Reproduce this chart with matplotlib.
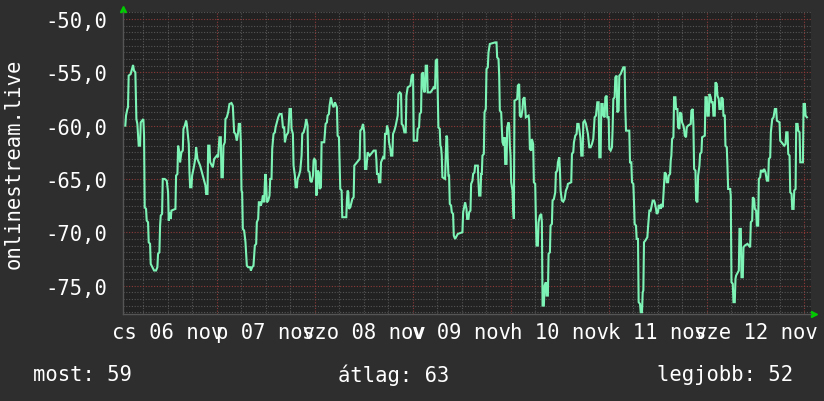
import matplotlib
matplotlib.use("Agg")
import matplotlib.pyplot as plt
from matplotlib.ticker import MultipleLocator
import matplotlib.transforms as mtransforms

# hours since 06 nov 00:00, signal level
d06_t = [1.55, 1.72, 2.05, 2.21, 2.37, 2.86, 3.19, 3.44, 3.68, 4.01, 4.26, 4.50, 4.83, 5.16, 5.32, 5.97,
         6.14, 6.30, 6.63, 6.79, 7.12, 7.28, 7.61, 7.77, 8.18, 8.59, 9.08, 9.41, 9.57, 9.90, 10.07, 10.23,
         10.56, 10.72, 11.21, 11.70, 12.03, 12.19, 12.36, 12.68, 12.85, 13.83, 13.99, 14.32, 14.48, 14.81,
         14.97, 15.30, 15.63, 15.79, 16.12, 16.45, 16.61, 16.78, 17.10, 17.27, 17.43, 17.76, 17.92, 18.41,
         18.74, 18.90, 19.23, 19.88, 20.54, 21.19, 21.36, 21.69, 21.85, 22.18, 22.34, 23.00, 23.32, 23.98]
d06_v = [-60.0, -59.06, -58.44, -58.28, -55.31, -55.16, -54.69, -54.31, -54.84, -55.0, -59.38, -59.84,
         -61.88, -61.88, -59.69, -59.38, -60.94, -67.66, -67.81, -68.91, -69.06, -70.94, -71.09, -72.97,
         -73.28, -73.59, -73.59, -73.28, -72.03, -71.88, -69.38, -68.44, -68.28, -65.0, -65.0, -65.16,
         -66.25, -68.91, -68.13, -68.75, -67.97, -67.81, -64.69, -64.53, -61.88, -62.5, -63.44, -62.5,
         -62.34, -60.31, -60.0, -59.53, -59.84, -60.47, -61.72, -64.38, -65.78, -65.78, -64.69, -63.75,
         -62.97, -62.03, -63.13, -63.75, -64.69, -65.63, -66.41, -66.41, -61.88, -61.88, -63.44, -63.91,
         -63.13, -62.81]

d07_t = [24.29, 24.62, 24.95, 25.11, 25.44, 25.60, 25.93, 26.09, 26.42, 26.75, 27.07, 27.56, 27.89, 28.22,
         28.55, 28.87, 29.20, 29.36, 29.69, 29.86, 30.02, 30.18, 30.35, 30.67, 31.00, 31.33, 31.66, 32.15,
         32.31, 32.64, 32.96, 33.29, 33.62, 33.78, 34.11, 34.27, 34.60, 34.77, 35.09, 35.26, 35.58, 35.75,
         35.91, 36.07, 36.24, 36.57, 36.89, 37.06, 37.38, 37.55, 37.87, 38.20, 38.37, 38.69, 39.02, 39.35,
         39.84, 40.00, 40.17, 40.49, 40.66, 40.98, 41.48, 41.80, 42.13, 42.29, 42.62, 42.78, 43.11, 43.28,
         43.60, 43.77, 44.09, 44.42, 44.75, 44.91, 45.24, 45.57, 45.89, 46.22, 46.39, 46.71, 46.88, 47.20,
         47.53, 47.69, 47.86]
d07_v = [-62.97, -61.09, -61.09, -64.84, -64.84, -61.88, -61.56, -59.38, -59.22, -58.75, -57.97, -57.88,
         -58.13, -60.63, -60.78, -61.41, -60.63, -59.84, -59.84, -61.56, -66.09, -66.25, -69.69, -69.84,
         -70.94, -73.13, -73.28, -73.28, -73.59, -73.28, -73.13, -71.25, -71.09, -69.06, -68.75, -67.19,
         -67.19, -67.5, -67.03, -66.56, -67.19, -65.31, -64.53, -65.31, -67.19, -67.03, -66.56, -65.0,
         -65.0, -62.19, -60.78, -60.63, -60.16, -59.69, -59.22, -58.91, -58.91, -59.38, -60.16, -60.16,
         -61.56, -60.94, -60.63, -58.44, -58.44, -60.31, -60.78, -63.75, -64.69, -65.78, -65.78, -65.0,
         -64.69, -64.22, -62.81, -60.78, -60.63, -60.16, -59.38, -60.0, -64.22, -64.38, -65.16, -65.31,
         -64.69, -63.28, -63.13]

d08_t = [48.18, 48.34, 48.50, 48.67, 48.98, 49.16, 49.49, 49.65, 50.30, 50.63, 50.96, 51.12, 51.45, 51.61,
         51.94, 52.27, 52.60, 52.92, 53.41, 53.58, 53.91, 54.23, 54.56, 54.72, 55.71, 55.87, 56.03, 56.20,
         56.36, 56.69, 57.18, 57.51, 57.67, 58.32, 58.98, 59.14, 59.47, 59.80, 60.12, 60.29, 60.62, 60.94,
         61.43, 61.76, 62.42, 62.91, 63.07, 63.23, 63.56, 63.73, 64.05, 64.22, 64.71, 65.03, 65.20, 65.53,
         65.69, 66.02, 66.18, 66.51, 66.67, 67.00, 67.16, 67.49, 67.82, 68.14, 68.31, 68.47, 68.80, 69.13,
         69.29, 69.62, 69.94, 70.27, 70.44, 70.76, 71.42, 71.74, 72.07]
d08_v = [-63.28, -66.56, -66.41, -64.22, -64.38, -65.94, -65.78, -61.56, -61.56, -59.84, -59.69, -59.06,
         -58.91, -58.13, -57.34, -57.97, -58.28, -57.81, -58.28, -60.94, -61.09, -65.94, -66.09, -68.59,
         -68.59, -66.88, -66.09, -66.25, -67.81, -67.66, -66.88, -66.72, -63.75, -63.44, -63.13, -60.47,
         -60.31, -59.84, -60.63, -64.06, -64.06, -62.5, -62.81, -62.66, -62.34, -62.34, -63.13, -64.53,
         -64.53, -65.31, -65.31, -63.44, -62.97, -63.13, -60.78, -60.78, -60.0, -60.47, -61.56, -62.19,
         -62.81, -62.81, -60.78, -60.47, -60.0, -59.38, -59.06, -57.03, -56.88, -57.03, -59.84, -60.0,
         -60.63, -60.63, -57.19, -56.41, -56.25, -55.31, -55.16]

d09_t = [72.23, 73.05, 73.21, 73.54, 73.70, 74.03, 74.19, 74.52, 74.68, 74.85, 75.01, 75.17, 75.50, 75.66,
         76.32, 76.65, 77.14, 77.46, 77.63, 77.96, 78.12, 78.28, 78.61, 78.77, 78.94, 79.10, 79.26, 79.92,
         80.08, 80.25, 80.41, 80.57, 80.74, 80.90, 81.07, 81.39, 81.56, 81.88, 82.05, 82.37, 83.03, 84.17,
         84.34, 84.67, 84.83, 85.16, 85.32, 85.65, 85.81, 86.14, 86.30, 86.63, 86.79, 87.12, 87.28, 87.94,
         88.10, 88.27, 88.59, 88.76, 88.92, 89.08, 89.41, 89.58, 89.90, 90.07, 90.39, 90.56, 90.88, 92.19,
         92.52, 92.68, 93.01, 93.18, 93.34, 93.67, 93.83, 93.99, 94.32, 94.49, 94.65, 94.98, 95.14, 95.47,
         95.63, 95.80, 95.96]
d09_v = [-61.41, -61.41, -60.31, -60.16, -58.91, -58.75, -55.16, -55.0, -56.56, -56.88, -56.72, -54.38,
         -54.38, -56.88, -56.88, -56.72, -56.41, -56.56, -53.91, -53.75, -56.72, -60.16, -60.31, -61.88,
         -62.03, -62.81, -64.84, -65.0, -62.81, -60.94, -61.09, -63.13, -64.69, -64.69, -67.34, -67.5,
         -68.13, -68.28, -70.31, -70.63, -70.16, -70.0, -68.13, -67.5, -67.19, -67.81, -68.75, -68.75,
         -68.13, -67.97, -65.47, -65.16, -64.53, -64.38, -63.75, -63.75, -65.31, -66.56, -66.56, -64.53,
         -64.53, -62.81, -62.66, -58.75, -58.44, -54.69, -54.53, -53.13, -52.34, -52.19, -52.19, -53.59,
         -53.75, -55.31, -58.59, -58.75, -60.31, -61.56, -61.88, -61.09, -63.59, -63.59, -60.16, -59.69,
         -60.0, -61.88, -62.81]

d10_t = [96.12, 96.44, 96.60, 96.77, 96.93, 97.59, 97.75, 98.08, 98.24, 98.57, 98.90, 99.06, 99.39, 99.55,
         99.71, 100.37, 100.53, 100.70, 101.02, 101.19, 101.51, 101.68, 102.01, 102.17, 102.33, 102.66,
         102.82, 103.15, 103.48, 103.64, 103.81, 104.13, 104.30, 104.62, 104.79, 105.11, 105.28, 105.61,
         105.77, 106.10, 106.26, 106.59, 106.92, 107.08, 107.41, 107.57, 107.90, 108.06, 108.22, 108.55,
         108.88, 109.21, 109.53, 109.86, 110.02, 110.84, 111.01, 111.33, 111.50, 111.83, 112.15, 112.32,
         112.64, 112.81, 113.13, 113.30, 113.63, 113.79, 114.12, 114.44, 114.61, 114.93, 115.26, 115.59,
         115.92, 116.24, 116.57, 116.90, 117.06, 117.23, 117.55, 117.72, 118.04, 118.21, 118.54, 118.70,
         119.03, 119.19, 119.52, 119.68, 120.01]
d10_v = [-65.31, -66.09, -67.81, -68.75, -57.66, -57.5, -56.25, -56.09, -59.06, -59.22, -58.44, -57.5,
         -57.34, -58.28, -59.22, -59.06, -59.53, -62.19, -62.34, -61.25, -61.72, -65.31, -65.47, -68.75,
         -71.25, -71.25, -69.06, -68.44, -68.28, -69.06, -76.88, -76.88, -75.0, -74.69, -75.94, -75.94,
         -72.03, -71.88, -69.38, -69.22, -67.03, -66.88, -66.25, -64.38, -64.22, -63.44, -62.97, -64.06,
         -66.09, -67.03, -67.13, -66.88, -66.09, -65.78, -65.47, -65.31, -62.66, -62.5, -61.56, -60.94,
         -60.78, -59.84, -59.84, -60.31, -61.25, -62.81, -62.81, -59.69, -59.53, -59.84, -60.16, -60.78,
         -62.03, -62.03, -61.72, -61.25, -59.22, -59.06, -58.44, -57.81, -57.81, -62.97, -62.97, -57.97,
         -57.97, -59.06, -59.22, -57.34, -57.19, -59.22, -59.22]

d11_t = [120.17, 120.49, 120.82, 120.98, 121.15, 121.47, 121.64, 121.96, 122.13, 122.45, 122.62, 122.95,
         123.27, 123.60, 123.93, 124.09, 124.26, 125.07, 125.24, 125.56, 125.73, 126.06, 126.22, 126.38,
         126.71, 126.87, 127.20, 127.36, 127.69, 127.86, 128.18, 128.35, 128.51, 128.67, 129.00, 129.49,
         129.66, 129.98, 130.31, 130.47, 130.80, 131.13, 131.29, 131.62, 131.78, 132.11, 132.27, 132.60,
         132.77, 132.93, 133.26, 133.58, 133.75, 134.07, 134.24, 134.57, 134.73, 135.06, 135.22, 135.38,
         135.55, 135.88, 136.04, 136.37, 136.53, 136.86, 137.02, 137.35, 137.51, 137.84, 138.00, 138.33,
         138.49, 138.66, 138.98, 139.15, 139.48, 140.13, 140.29, 140.62, 140.78, 140.95, 141.28, 141.44,
         141.77, 141.93, 142.26, 142.42, 142.75, 142.91, 143.57, 143.73, 144.06]
d11_v = [-62.19, -62.34, -62.03, -60.31, -57.5, -57.34, -55.47, -55.31, -58.75, -58.59, -55.31, -55.16,
         -54.84, -54.53, -54.53, -58.44, -60.47, -60.47, -63.44, -63.44, -65.31, -65.47, -67.19, -69.22,
         -69.38, -70.63, -70.63, -76.56, -76.72, -77.5, -77.5, -75.63, -75.47, -70.94, -70.78, -70.47,
         -69.53, -67.97, -67.97, -67.66, -67.03, -67.03, -67.19, -67.81, -68.28, -68.13, -67.5, -67.5,
         -67.81, -67.34, -67.66, -65.63, -64.38, -64.53, -65.31, -65.31, -64.69, -64.53, -63.28, -62.81,
         -61.25, -61.09, -57.34, -57.34, -58.44, -58.44, -60.16, -60.31, -58.75, -58.91, -59.69, -60.0,
         -60.31, -60.94, -61.09, -60.16, -60.0, -59.84, -58.59, -58.44, -60.0, -64.06, -64.22, -67.03,
         -67.19, -64.69, -63.75, -62.66, -62.5, -61.09, -60.94, -57.34, -57.34]

d12_t = [144.22, 144.54, 144.70, 145.03, 145.20, 145.52, 145.69, 146.01, 146.18, 146.50, 146.67, 146.99,
         147.16, 147.49, 147.65, 147.98, 148.14, 148.47, 148.63, 148.96, 149.12, 149.29, 149.78, 149.94,
         150.11, 150.43, 150.60, 150.92, 151.09, 151.25, 151.91, 152.07, 152.40, 152.56, 152.89, 153.05,
         153.38, 154.03, 154.69, 154.85, 155.18, 155.34, 155.67, 155.83, 156.16, 156.32, 156.65, 156.82,
         157.14, 157.31, 157.63, 157.80, 158.12, 158.45, 158.78, 159.11, 159.27, 159.60, 159.76, 160.09,
         160.42, 160.74, 161.07, 161.23, 161.89, 162.05, 162.38, 163.03, 163.36, 163.53, 163.85, 164.02,
         164.34, 164.51, 164.84, 165.00, 165.33, 165.49, 165.82, 165.98, 166.31, 166.47, 166.80, 166.96,
         167.62, 167.78, 168.11, 168.27, 168.60]
d12_v = [-59.06, -59.06, -57.03, -57.34, -57.81, -57.81, -59.06, -59.06, -55.94, -56.09, -57.19, -57.5,
         -58.44, -58.44, -57.34, -57.5, -59.06, -59.06, -61.88, -62.03, -63.75, -65.94, -65.94, -66.56,
         -74.69, -74.84, -76.56, -76.56, -74.38, -74.06, -73.59, -69.69, -69.69, -74.22, -74.22, -71.41,
         -71.25, -71.09, -71.41, -69.06, -68.91, -66.72, -66.88, -67.81, -67.97, -69.38, -69.38, -65.0,
         -64.84, -64.22, -64.22, -64.38, -64.06, -64.38, -65.16, -65.16, -63.13, -62.97, -60.63, -59.38,
         -59.22, -58.44, -58.44, -59.53, -59.69, -61.41, -61.56, -61.88, -61.72, -60.63, -60.63, -62.66,
         -62.81, -66.25, -66.41, -67.81, -67.81, -66.09, -65.94, -59.84, -59.84, -60.47, -60.63, -63.44,
         -63.44, -57.97, -57.97, -59.06, -59.22]

day_labels = ["cs 06 nov", "p 07 nov", "szo 08 nov", "v 09 nov", "h 10 nov", "k 11 nov", "sze 12 nov"]
label_hours = [12, 36, 60, 84, 108, 132, 156]
series_name = "onlinestream.live"
stat_labels = ["most: 59", "átlag: 63", "legjobb: 52"]

times = d06_t + d07_t + d08_t + d09_t + d10_t + d11_t + d12_t
values = d06_v + d07_v + d08_v + d09_v + d10_v + d11_v + d12_v

bg = "#2e2e2e"
canvas = "#222222"
txt = "#ffffff"
mono = "DejaVu Sans Mono"
fs = 14.8

fig = plt.figure(figsize=(8.24, 4.02), dpi=100, facecolor=bg)
ax = fig.add_axes([123 / 824, 1 - 315 / 402, 688 / 824, 302 / 402], facecolor=canvas)

ax.plot(times, values, color="#7df4b5", linewidth=1.5, solid_joinstyle="miter", zorder=3)

ax.set_xlim(0.98, 169.6)
ax.set_ylim(-77.67, -49.34)

# grid: minor grey dots, major red dots
ax.xaxis.set_major_locator(MultipleLocator(24))
ax.xaxis.set_minor_locator(MultipleLocator(6))
ax.yaxis.set_major_locator(MultipleLocator(5))
ax.yaxis.set_minor_locator(MultipleLocator(0.625))
ax.grid(which="minor", color="#555555", linestyle=(0, (1, 1.5)), linewidth=0.8)
ax.grid(which="major", color="#8e3a3a", linestyle=(0, (1, 1.5)), linewidth=0.8)
ax.set_axisbelow(True)

ax.tick_params(which="both", length=0)
ax.set_xticklabels([])
yt = [-75, -70, -65, -60, -55, -50]
ax.set_yticks(yt)
ax.set_yticklabels([f"{v:.1f}".replace(".", ",") for v in yt], fontfamily=mono, fontsize=fs, color=txt)
ax.tick_params(axis="y", pad=11)

trans = mtransforms.blended_transform_factory(ax.transData, ax.transAxes)
for h, lab in zip(label_hours, day_labels):
    ax.text(h, -0.025, lab, transform=trans, ha="center", va="top",
            fontfamily=mono, fontsize=fs, color=txt)

for s in ["top", "right"]:
    ax.spines[s].set_visible(False)
for s in ["left", "bottom"]:
    ax.spines[s].set_color("#555555")
    ax.spines[s].set_linewidth(1)

# rrdtool style arrows
ax.plot([0], [1.01], marker="^", color="#00cc00", markersize=5, transform=ax.transAxes, clip_on=False)
ax.plot([1.004], [0], marker=">", color="#00cc00", markersize=5, transform=ax.transAxes, clip_on=False)

fig.text(14 / 824, 1 - 164 / 402, series_name, rotation=90, ha="center", va="center",
         fontfamily=mono, fontsize=fs, color=txt)

fig.text(33 / 824, 1 - 375 / 402, stat_labels[0], ha="left", va="center", fontfamily=mono, fontsize=fs, color=txt)
fig.text(394 / 824, 1 - 375 / 402, stat_labels[1], ha="center", va="center", fontfamily=mono, fontsize=fs, color=txt)
fig.text(793 / 824, 1 - 375 / 402, stat_labels[2], ha="right", va="center", fontfamily=mono, fontsize=fs, color=txt)

fig.savefig("out.png", dpi=100, facecolor=bg)
